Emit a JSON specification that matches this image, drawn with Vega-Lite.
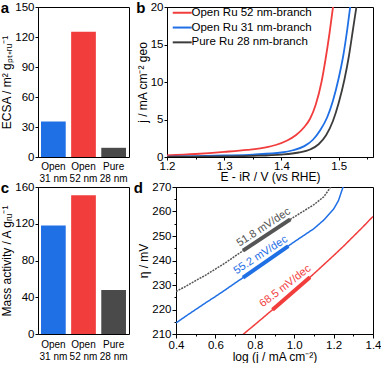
{
  "$schema": "https://vega.github.io/schema/vega-lite/v6.json",
  "padding": {"left": 0, "top": 0, "right": 0, "bottom": 0},
  "config": {
    "font": "Liberation Sans",
    "view": {"stroke": "black", "strokeWidth": 1},
    "axis": {"domainColor": "black", "tickColor": "black", "labelColor": "black", "titleColor": "black", "labelFontSize": 11.5, "titleFontSize": 12, "titleFontWeight": "normal", "grid": false, "tickSize": 3, "labelPadding": 1, "titlePadding": 1, "labelFont": "Liberation Sans", "titleFont": "Liberation Sans", "labelOverlap": false, "labelFlush": false},
    "title": {"fontSize": 15, "fontWeight": "bold", "anchor": "start", "frame": "bounds", "offset": 0, "dy": 19, "font": "Liberation Sans", "color": "black"}
  },
  "resolve": {"scale": {"color": "independent", "strokeDash": "independent"}, "legend": {"color": "independent", "strokeDash": "independent"}},
  "datasets": {
    "lsv": [
      {"sample": "Open Ru 52 nm-branch", "E": 1.2, "j": 0.2},
      {"sample": "Open Ru 52 nm-branch", "E": 1.25, "j": 0.4},
      {"sample": "Open Ru 52 nm-branch", "E": 1.3, "j": 0.68},
      {"sample": "Open Ru 52 nm-branch", "E": 1.34, "j": 0.95},
      {"sample": "Open Ru 52 nm-branch", "E": 1.37, "j": 1.25},
      {"sample": "Open Ru 52 nm-branch", "E": 1.39, "j": 1.6},
      {"sample": "Open Ru 52 nm-branch", "E": 1.41, "j": 2.2},
      {"sample": "Open Ru 52 nm-branch", "E": 1.425, "j": 2.9},
      {"sample": "Open Ru 52 nm-branch", "E": 1.44, "j": 4.0},
      {"sample": "Open Ru 52 nm-branch", "E": 1.45, "j": 5.1},
      {"sample": "Open Ru 52 nm-branch", "E": 1.46, "j": 7.0},
      {"sample": "Open Ru 52 nm-branch", "E": 1.47, "j": 10.0},
      {"sample": "Open Ru 52 nm-branch", "E": 1.477, "j": 13.0},
      {"sample": "Open Ru 52 nm-branch", "E": 1.484, "j": 16.5},
      {"sample": "Open Ru 52 nm-branch", "E": 1.491, "j": 20.5},
      {"sample": "Open Ru 31 nm-branch", "E": 1.2, "j": 0.05},
      {"sample": "Open Ru 31 nm-branch", "E": 1.25, "j": 0.1},
      {"sample": "Open Ru 31 nm-branch", "E": 1.3, "j": 0.2},
      {"sample": "Open Ru 31 nm-branch", "E": 1.35, "j": 0.33},
      {"sample": "Open Ru 31 nm-branch", "E": 1.4, "j": 0.6},
      {"sample": "Open Ru 31 nm-branch", "E": 1.42, "j": 0.9},
      {"sample": "Open Ru 31 nm-branch", "E": 1.44, "j": 1.45},
      {"sample": "Open Ru 31 nm-branch", "E": 1.455, "j": 2.3},
      {"sample": "Open Ru 31 nm-branch", "E": 1.468, "j": 3.6},
      {"sample": "Open Ru 31 nm-branch", "E": 1.48, "j": 5.3},
      {"sample": "Open Ru 31 nm-branch", "E": 1.49, "j": 7.5},
      {"sample": "Open Ru 31 nm-branch", "E": 1.5, "j": 10.5},
      {"sample": "Open Ru 31 nm-branch", "E": 1.508, "j": 13.5},
      {"sample": "Open Ru 31 nm-branch", "E": 1.515, "j": 17},
      {"sample": "Open Ru 31 nm-branch", "E": 1.521, "j": 20.5},
      {"sample": "Pure Ru 28 nm-branch", "E": 1.2, "j": 0.02},
      {"sample": "Pure Ru 28 nm-branch", "E": 1.25, "j": 0.04},
      {"sample": "Pure Ru 28 nm-branch", "E": 1.3, "j": 0.08},
      {"sample": "Pure Ru 28 nm-branch", "E": 1.35, "j": 0.15},
      {"sample": "Pure Ru 28 nm-branch", "E": 1.4, "j": 0.32},
      {"sample": "Pure Ru 28 nm-branch", "E": 1.43, "j": 0.6},
      {"sample": "Pure Ru 28 nm-branch", "E": 1.45, "j": 1.0},
      {"sample": "Pure Ru 28 nm-branch", "E": 1.465, "j": 1.7},
      {"sample": "Pure Ru 28 nm-branch", "E": 1.478, "j": 2.9},
      {"sample": "Pure Ru 28 nm-branch", "E": 1.49, "j": 4.8},
      {"sample": "Pure Ru 28 nm-branch", "E": 1.5, "j": 7.2},
      {"sample": "Pure Ru 28 nm-branch", "E": 1.51, "j": 10.3},
      {"sample": "Pure Ru 28 nm-branch", "E": 1.518, "j": 13.5},
      {"sample": "Pure Ru 28 nm-branch", "E": 1.525, "j": 17},
      {"sample": "Pure Ru 28 nm-branch", "E": 1.532, "j": 20.5}
    ],
    "tafel": [
      {"sample": "Pure Ru 28 nm-branch", "logj": 0.4, "eta": 227.3},
      {"sample": "Pure Ru 28 nm-branch", "logj": 0.45, "eta": 229.5},
      {"sample": "Pure Ru 28 nm-branch", "logj": 0.5, "eta": 231.8},
      {"sample": "Pure Ru 28 nm-branch", "logj": 0.55, "eta": 234.0},
      {"sample": "Pure Ru 28 nm-branch", "logj": 0.6, "eta": 236.5},
      {"sample": "Pure Ru 28 nm-branch", "logj": 0.65, "eta": 239.0},
      {"sample": "Pure Ru 28 nm-branch", "logj": 0.7, "eta": 241.8},
      {"sample": "Pure Ru 28 nm-branch", "logj": 0.75, "eta": 244.5},
      {"sample": "Pure Ru 28 nm-branch", "logj": 0.8, "eta": 247.2},
      {"sample": "Pure Ru 28 nm-branch", "logj": 0.85, "eta": 250.0},
      {"sample": "Pure Ru 28 nm-branch", "logj": 0.9, "eta": 252.6},
      {"sample": "Pure Ru 28 nm-branch", "logj": 0.95, "eta": 255.2},
      {"sample": "Pure Ru 28 nm-branch", "logj": 1.0, "eta": 257.8},
      {"sample": "Pure Ru 28 nm-branch", "logj": 1.05, "eta": 260.3},
      {"sample": "Pure Ru 28 nm-branch", "logj": 1.1, "eta": 262.8},
      {"sample": "Pure Ru 28 nm-branch", "logj": 1.15, "eta": 266.0},
      {"sample": "Pure Ru 28 nm-branch", "logj": 1.19, "eta": 270.5},
      {"sample": "Open Ru 31 nm-branch", "logj": 0.4, "eta": 214.5},
      {"sample": "Open Ru 31 nm-branch", "logj": 0.45, "eta": 217.3},
      {"sample": "Open Ru 31 nm-branch", "logj": 0.5, "eta": 220.0},
      {"sample": "Open Ru 31 nm-branch", "logj": 0.55, "eta": 222.7},
      {"sample": "Open Ru 31 nm-branch", "logj": 0.6, "eta": 225.3},
      {"sample": "Open Ru 31 nm-branch", "logj": 0.65, "eta": 228.0},
      {"sample": "Open Ru 31 nm-branch", "logj": 0.7, "eta": 230.8},
      {"sample": "Open Ru 31 nm-branch", "logj": 0.75, "eta": 233.5},
      {"sample": "Open Ru 31 nm-branch", "logj": 0.8, "eta": 236.3},
      {"sample": "Open Ru 31 nm-branch", "logj": 0.85, "eta": 239.2},
      {"sample": "Open Ru 31 nm-branch", "logj": 0.9, "eta": 242.0},
      {"sample": "Open Ru 31 nm-branch", "logj": 0.95, "eta": 244.8},
      {"sample": "Open Ru 31 nm-branch", "logj": 1.0, "eta": 247.6},
      {"sample": "Open Ru 31 nm-branch", "logj": 1.05, "eta": 250.3},
      {"sample": "Open Ru 31 nm-branch", "logj": 1.1, "eta": 253.0},
      {"sample": "Open Ru 31 nm-branch", "logj": 1.15, "eta": 256.5},
      {"sample": "Open Ru 31 nm-branch", "logj": 1.2, "eta": 261.0},
      {"sample": "Open Ru 31 nm-branch", "logj": 1.225, "eta": 264.5},
      {"sample": "Open Ru 31 nm-branch", "logj": 1.25, "eta": 270.5},
      {"sample": "Open Ru 52 nm-branch", "logj": 0.74, "eta": 209.8},
      {"sample": "Open Ru 52 nm-branch", "logj": 0.8, "eta": 213.8},
      {"sample": "Open Ru 52 nm-branch", "logj": 0.85, "eta": 217.2},
      {"sample": "Open Ru 52 nm-branch", "logj": 0.9, "eta": 220.6},
      {"sample": "Open Ru 52 nm-branch", "logj": 0.95, "eta": 224.0},
      {"sample": "Open Ru 52 nm-branch", "logj": 1.0, "eta": 227.5},
      {"sample": "Open Ru 52 nm-branch", "logj": 1.05, "eta": 231.0},
      {"sample": "Open Ru 52 nm-branch", "logj": 1.1, "eta": 234.6},
      {"sample": "Open Ru 52 nm-branch", "logj": 1.15, "eta": 238.3},
      {"sample": "Open Ru 52 nm-branch", "logj": 1.2, "eta": 242.0},
      {"sample": "Open Ru 52 nm-branch", "logj": 1.25, "eta": 245.8},
      {"sample": "Open Ru 52 nm-branch", "logj": 1.3, "eta": 249.8},
      {"sample": "Open Ru 52 nm-branch", "logj": 1.35, "eta": 253.8},
      {"sample": "Open Ru 52 nm-branch", "logj": 1.4, "eta": 258.0}
    ],
    "fits": [
      {"sample": "Pure Ru 28 nm-branch", "logj": 0.74, "eta": 244.0},
      {"sample": "Pure Ru 28 nm-branch", "logj": 0.98, "eta": 256.8},
      {"sample": "Open Ru 31 nm-branch", "logj": 0.74, "eta": 233.0},
      {"sample": "Open Ru 31 nm-branch", "logj": 0.97, "eta": 245.9},
      {"sample": "Open Ru 52 nm-branch", "logj": 0.89, "eta": 219.9},
      {"sample": "Open Ru 52 nm-branch", "logj": 1.08, "eta": 233.2}
    ]
  },
  "spacing": -4,
  "vconcat": [
    {
      "bounds": "flush",
      "spacing": 38,
      "resolve": {"scale": {"color": "independent"}, "legend": {"color": "independent"}},
      "hconcat": [
        {
          "title": {"text": "a"},
          "width": 91,
          "height": 150,
          "data": {"values": [
            {"sample": "Open 31 nm", "ecsa": 35.5},
            {"sample": "Open 52 nm", "ecsa": 125.3},
            {"sample": "Pure 28 nm", "ecsa": 9.2}
          ]},
          "mark": {"type": "bar"},
          "encoding": {
            "x": {"field": "sample", "type": "nominal", "sort": null,
                  "scale": {"paddingInner": 0.18, "paddingOuter": 0.1},
                  "axis": {"title": null, "labelAngle": 0, "ticks": false, "labelPadding": 4, "domain": false, "labelFontSize": 10, "labelLineHeight": 12.5,
                           "labelExpr": "[slice(datum.label,0,4), slice(datum.label,5)]"}},
            "y": {"field": "ecsa", "type": "quantitative", "scale": {"domain": [0, 150]},
                  "axis": {"values": [0, 30, 60, 90, 120, 150], "title": "ECSA / m² gₚₜ₊ᵣᵤ⁻¹"}},
            "color": {"field": "sample", "type": "nominal",
                      "scale": {"domain": ["Open 31 nm", "Open 52 nm", "Pure 28 nm"], "range": ["#1f6fe5", "#f23d3d", "#4a4a4a"]},
                      "legend": null}
          }
        },
        {
          "title": {"text": "b"},
          "width": 206,
          "height": 150,
          "data": {"name": "lsv"},
          "mark": {"type": "line", "strokeWidth": 1.8, "interpolate": "monotone", "clip": true},
          "encoding": {
            "x": {"field": "E", "type": "quantitative", "scale": {"domain": [1.2, 1.56]},
                  "axis": {"values": [1.2, 1.25, 1.3, 1.35, 1.4, 1.45, 1.5, 1.55], "title": "E - iR / V (vs RHE)", "labelPadding": 0, "titlePadding": 0,
                           "labelExpr": "round(datum.value*100)%10==0 ? format(datum.value,'.1f') : ''",
                           "tickSize": {"condition": {"test": "round(datum.value*100)%10==0", "value": 3}, "value": 2}}},
            "y": {"field": "j", "type": "quantitative", "scale": {"domain": [0, 20]},
                  "axis": {"values": [0, 5, 10, 15, 20], "title": "j / mA cm⁻² geo"}},
            "color": {"field": "sample", "type": "nominal",
                      "scale": {"domain": ["Open Ru 52 nm-branch", "Open Ru 31 nm-branch", "Pure Ru 28 nm-branch"], "range": ["#f23d3d", "#1f6fe5", "#3c3c3c"]},
                      "legend": {"orient": "top-left", "title": null, "offset": 0, "padding": 0,
                                 "symbolType": "M0,0H6", "symbolSize": 40, "symbolStrokeWidth": 2,
                                 "labelFontSize": 11.5, "labelOffset": 13, "rowPadding": 1.8, "labelColor": "black", "labelFont": "Liberation Sans"}}
          }
        }
      ]
    },
    {
      "bounds": "flush",
      "spacing": 47,
      "resolve": {"scale": {"color": "independent", "strokeDash": "independent"}, "legend": {"color": "independent", "strokeDash": "independent"}},
      "hconcat": [
        {
          "title": {"text": "c"},
          "width": 91,
          "height": 147,
          "data": {"values": [
            {"sample": "Open 31 nm", "activity": 118},
            {"sample": "Open 52 nm", "activity": 151},
            {"sample": "Pure 28 nm", "activity": 48}
          ]},
          "mark": {"type": "bar"},
          "encoding": {
            "x": {"field": "sample", "type": "nominal", "sort": null,
                  "scale": {"paddingInner": 0.18, "paddingOuter": 0.1},
                  "axis": {"title": null, "labelAngle": 0, "ticks": false, "labelPadding": 5, "domain": false, "labelFontSize": 10, "labelLineHeight": 12.5,
                           "labelExpr": "[slice(datum.label,0,4), slice(datum.label,5)]"}},
            "y": {"field": "activity", "type": "quantitative", "scale": {"domain": [0, 160]},
                  "axis": {"values": [0, 40, 80, 120, 160], "title": "Mass activity / A gᵣᵤ⁻¹"}},
            "color": {"field": "sample", "type": "nominal",
                      "scale": {"domain": ["Open 31 nm", "Open 52 nm", "Pure 28 nm"], "range": ["#1f6fe5", "#f23d3d", "#4a4a4a"]},
                      "legend": null}
          }
        },
        {
          "title": {"text": "d", "dx": -4},
          "width": 197,
          "height": 147,
          "encoding": {
            "x": {"field": "logj", "type": "quantitative", "scale": {"domain": [0.4, 1.4]},
                  "axis": {"values": [0.4, 0.5, 0.6, 0.7, 0.8, 0.9, 1.0, 1.1, 1.2, 1.3, 1.4], "title": "log (j / mA cm⁻²)", "labelPadding": 1, "titlePadding": 1, "labelOverlap": false, "labelFlush": false,
                           "labelExpr": "round(datum.value*10)%2==0 ? format(datum.value,'.1f') : ''",
                           "tickSize": {"condition": {"test": "round(datum.value*10)%2==0", "value": 4}, "value": 2}}},
            "y": {"field": "eta", "type": "quantitative", "scale": {"domain": [210, 270]},
                  "axis": {"values": [210, 215, 220, 225, 230, 235, 240, 245, 250, 255, 260, 265, 270], "title": "η / mV", "labelOverlap": false,
                           "labelExpr": "datum.value%10==0 ? datum.label : ''",
                           "tickSize": {"condition": {"test": "datum.value%10==0", "value": 4}, "value": 2}}}
          },
          "layer": [
            {
              "data": {"name": "tafel"},
              "mark": {"type": "line", "strokeWidth": 1.5, "clip": true},
              "encoding": {
                "color": {"field": "sample", "type": "nominal",
                          "scale": {"domain": ["Open Ru 52 nm-branch", "Open Ru 31 nm-branch", "Pure Ru 28 nm-branch"], "range": ["#f23d3d", "#1f6fe5", "#555555"]},
                          "legend": null},
                "strokeDash": {"field": "sample", "type": "nominal",
                               "scale": {"domain": ["Open Ru 52 nm-branch", "Open Ru 31 nm-branch", "Pure Ru 28 nm-branch"], "range": [[1, 0], [1, 0], [2, 1]]},
                               "legend": null}
              }
            },
            {
              "data": {"name": "fits"},
              "mark": {"type": "line", "strokeWidth": 4},
              "encoding": {
                "color": {"field": "sample", "type": "nominal", "legend": null}
              }
            },
            {
              "data": {"values": [{"logj": 0.845, "eta": 253.5, "label": "51.8 mV/dec"}]},
              "mark": {"type": "text", "angle": 327, "fontSize": 11, "color": "#555555"},
              "encoding": {"text": {"field": "label"}}
            },
            {
              "data": {"values": [{"logj": 0.83, "eta": 242.2, "label": "55.2 mV/dec"}]},
              "mark": {"type": "text", "angle": 327, "fontSize": 11, "color": "#1f6fe5"},
              "encoding": {"text": {"field": "label"}}
            },
            {
              "data": {"values": [{"logj": 0.955, "eta": 229.5, "label": "68.5 mV/dec"}]},
              "mark": {"type": "text", "angle": 322, "fontSize": 11, "color": "#f23d3d"},
              "encoding": {"text": {"field": "label"}}
            }
          ]
        }
      ]
    }
  ]
}
